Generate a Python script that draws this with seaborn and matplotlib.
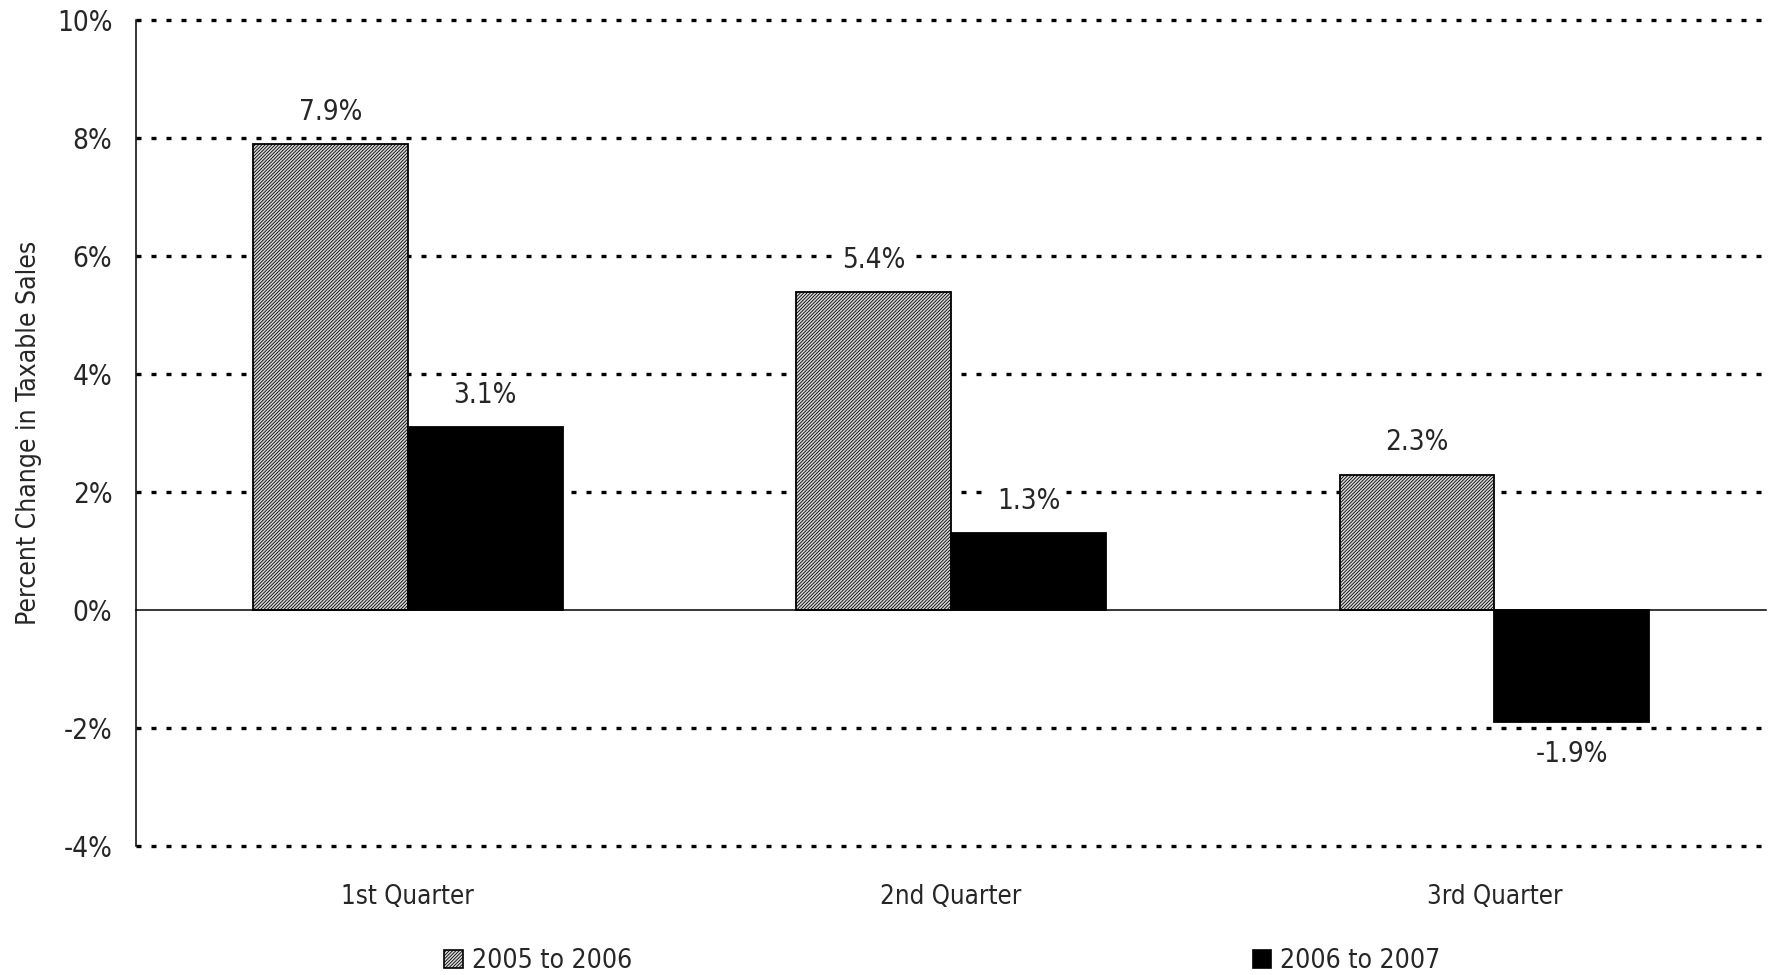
import matplotlib
matplotlib.use("Agg")
import matplotlib.pyplot as plt
import matplotlib.ticker as mticker
from matplotlib.patches import Patch
import seaborn as sns
import pandas as pd


QUARTERS = ["1st Quarter", "2nd Quarter", "3rd Quarter"]
PERIODS = ["2005 to 2006", "2006 to 2007"]
CHANGE_2005_2006 = [7.9, 5.4, 2.3]
CHANGE_2006_2007 = [3.1, 1.3, -1.9]
Y_TICKS = [-4, -2, 0, 2, 4, 6, 8, 10]

HATCH_FILL = "#d8d8d8"
HATCH_COLOR = "#333333"
HATCH = "/" * 10


df = pd.DataFrame(
    {
        "quarter": QUARTERS * 2,
        "period": [PERIODS[0]] * 3 + [PERIODS[1]] * 3,
        "change": CHANGE_2005_2006 + CHANGE_2006_2007,
    }
)

sns.set_style("white")
plt.rcParams["font.family"] = ["DejaVu Sans"]
plt.rcParams["font.stretch"] = "condensed"
plt.rcParams["axes.unicode_minus"] = False
plt.rcParams["hatch.linewidth"] = 0.6
plt.rcParams["hatch.color"] = HATCH_COLOR

fig = plt.figure(figsize=(17.75, 9.75), dpi=100)
ax = fig.add_axes([0.0766, 0.1323, 0.9184, 0.8467])

sns.barplot(
    data=df,
    x="quarter",
    y="change",
    hue="period",
    palette=[HATCH_FILL, "black"],
    width=0.57,
    edgecolor="black",
    linewidth=1.3,
    legend=False,
    ax=ax,
    zorder=3,
)

for bar in ax.containers[0]:
    bar.set_hatch(HATCH)

# value labels sit on a white box, which hides the grid behind them
for cont in ax.containers:
    ax.bar_label(
        cont,
        labels=[f"{v:.1f}%" for v in cont.datavalues],
        padding=13,
        fontsize=20,
        bbox=dict(facecolor="white", edgecolor="none", pad=4),
        zorder=5,
    )

ax.set_xlim(-0.5, 2.5)
ax.set_ylim(-4, 10)
ax.set_yticks(Y_TICKS)
ax.yaxis.set_major_formatter(mticker.FuncFormatter(lambda v, _: f"{v:.0f}%"))
ax.yaxis.grid(True, color="black", linewidth=2.4, linestyle=(0, (1.5, 3)), zorder=0)
ax.set_axisbelow(True)
for tick_val, line in zip(Y_TICKS, ax.get_ygridlines()):
    line.set_clip_on(False)
    if tick_val == 0:
        line.set_visible(False)

for side in ["top", "right"]:
    ax.spines[side].set_visible(False)
ax.spines["left"].set_color("black")
ax.spines["left"].set_linewidth(1.1)
ax.spines["bottom"].set_position(("data", 0))
ax.spines["bottom"].set_color("black")
ax.spines["bottom"].set_linewidth(1.1)
ax.spines["bottom"].set_zorder(4)

ax.set_xticks([0.5, 1.5, 2.5], minor=True)
ax.tick_params(axis="x", which="minor", length=8, width=1, direction="out", color="black")
ax.tick_params(axis="x", which="major", length=0, pad=197, labelsize=18.5)
ax.tick_params(axis="y", length=8, width=1, direction="out", color="black", labelsize=20, pad=9)

ax.set_xlabel("")
ax.set_ylabel("Percent Change in Taxable Sales", fontsize=19, labelpad=11)

handles = [
    Patch(facecolor=HATCH_FILL, edgecolor="black", hatch=HATCH, linewidth=1.2),
    Patch(facecolor="black", edgecolor="black", linewidth=1.2),
]
fig.legend(
    handles,
    PERIODS,
    loc="center",
    bbox_to_anchor=(0.531, 0.014),
    ncol=2,
    frameon=False,
    fontsize=19,
    handlelength=0.7,
    handleheight=0.7,
    handletextpad=0.35,
    columnspacing=23.5,
)

fig.savefig("out.png", dpi=100)
